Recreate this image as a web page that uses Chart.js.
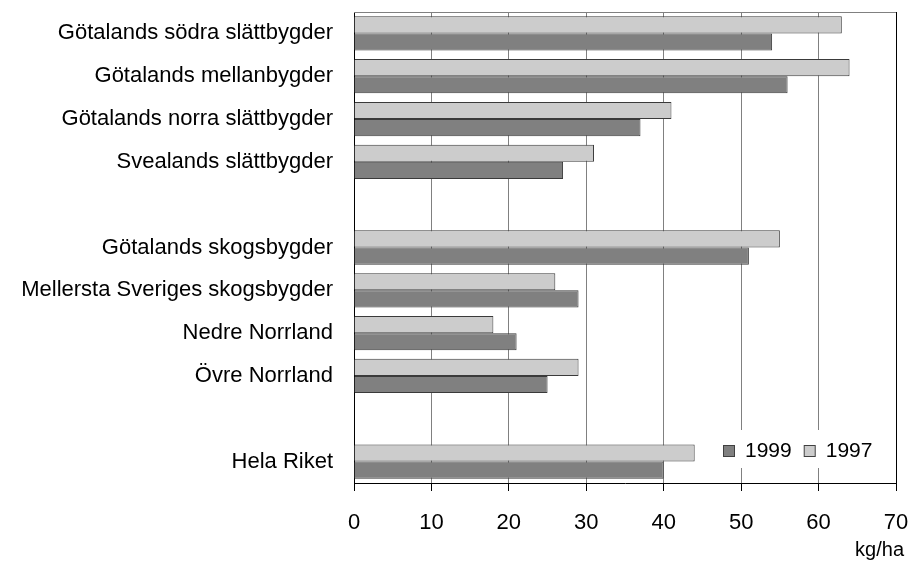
<!DOCTYPE html>
<html>
<head>
<meta charset="utf-8">
<script src="https://cdn.jsdelivr.net/npm/chart.js@4"></script>
<style>
  html, body { margin: 0; padding: 0; background: #fff; }
  #wrap { width: 912px; height: 563px; }
</style>
</head>
<body>
<div id="wrap"><canvas id="chart" width="912" height="563"></canvas></div>
<script>
// regions, empty strings are the gaps between the groups
const regions = [
    'Götalands södra slättbygder',
    'Götalands mellanbygder',
    'Götalands norra slättbygder',
    'Svealands slättbygder',
    '',
    'Götalands skogsbygder',
    'Mellersta Sveriges skogsbygder',
    'Nedre Norrland',
    'Övre Norrland',
    '',
    'Hela Riket'
];
const values1997 = [63, 64, 41, 31, null, 55, 26, 18, 29, null, 44];
const values1999 = [54, 56, 37, 27, null, 51, 29, 21, 25, null, 40];
const xTicks = [0, 10, 20, 30, 40, 50, 60, 70];

const FONT = 'Liberation Sans, Arial, sans-serif';

// stop the scales from pushing the plot area inwards for label overhang
function noScalePadding(scale) {
    scale.paddingTop = 0;
    scale.paddingBottom = 0;
    scale.paddingLeft = 0;
    scale.paddingRight = 0;
}

// legend drawn inside the plot, bottom right, 1999 first
const innerLegend = {
    id: 'innerLegend',
    afterDraw(chart) {
        const c = chart.ctx;
        const area = chart.chartArea;
        const items = [chart.data.datasets[1], chart.data.datasets[0]];
        c.save();
        c.fillStyle = '#fff';
        c.fillRect(area.right - 181, area.bottom - 53, 172, 38);
        c.font = '21px ' + FONT;
        c.textBaseline = 'middle';
        let x = area.right - 173;
        const y = area.bottom - 32;
        items.forEach(ds => {
            c.fillStyle = ds.backgroundColor;
            c.strokeStyle = '#404040';
            c.lineWidth = 1;
            c.fillRect(x + 0.5, y - 5.5, 11, 11);
            c.strokeRect(x + 0.5, y - 5.5, 11, 11);
            c.fillStyle = '#000';
            c.fillText(ds.label, x + 22, y);
            x += 22 + c.measureText(ds.label).width + 12;
        });
        // top and right frame of the plot
        c.strokeStyle = '#808080';
        c.beginPath();
        c.moveTo(area.left, area.top + 0.5);
        c.lineTo(area.right, area.top + 0.5);
        c.stroke();
        c.strokeStyle = '#000';
        c.beginPath();
        c.moveTo(area.right + 0.5, area.top);
        c.lineTo(area.right + 0.5, area.bottom);
        c.stroke();
        // unit label
        c.fillStyle = '#000';
        c.font = '20px ' + FONT;
        c.textAlign = 'right';
        c.textBaseline = 'alphabetic';
        c.fillText('kg/ha', chart.width - 8, chart.height - 7);
        c.restore();
    }
};

const ctx = document.getElementById('chart').getContext('2d');
const chart = new Chart(ctx, {
    type: 'bar',
    data: {
        labels: regions,
        datasets: [
            {
                label: '1997',
                data: values1997,
                backgroundColor: '#cccccc',
                borderColor: '#3a3a3a',
                borderWidth: 1
            },
            {
                label: '1999',
                data: values1999,
                backgroundColor: '#808080',
                borderColor: '#3a3a3a',
                borderWidth: 1
            }
        ]
    },
    options: {
        indexAxis: 'y',
        responsive: false,
        animation: false,
        categoryPercentage: 0.8,
        barPercentage: 1.0,
        layout: { padding: { top: 12, right: 16, left: 0, bottom: 0 } },
        plugins: {
            legend: { display: false },
            tooltip: { enabled: false }
        },
        scales: {
            x: {
                min: 0,
                max: 70,
                afterBuildTicks(scale) {
                    scale.ticks = xTicks.map(v => ({ value: v }));
                },
                afterFit(scale) {
                    scale.height = 80;
                    noScalePadding(scale);
                },
                grid: {
                    color: '#808080',
                    lineWidth: 1,
                    drawTicks: true,
                    tickLength: 8,
                    tickColor: '#000'
                },
                border: { color: '#000', width: 1 },
                ticks: {
                    color: '#000',
                    font: { family: FONT, size: 22 },
                    padding: 19,
                    maxRotation: 0
                }
            },
            y: {
                afterFit(scale) {
                    scale.width = 354;
                    noScalePadding(scale);
                },
                grid: { display: false, drawTicks: false },
                border: { color: '#000', width: 1 },
                ticks: {
                    color: '#000',
                    font: { family: FONT, size: 22 },
                    padding: 21,
                    autoSkip: false
                }
            }
        }
    },
    plugins: [innerLegend]
});
</script>
</body>
</html>
